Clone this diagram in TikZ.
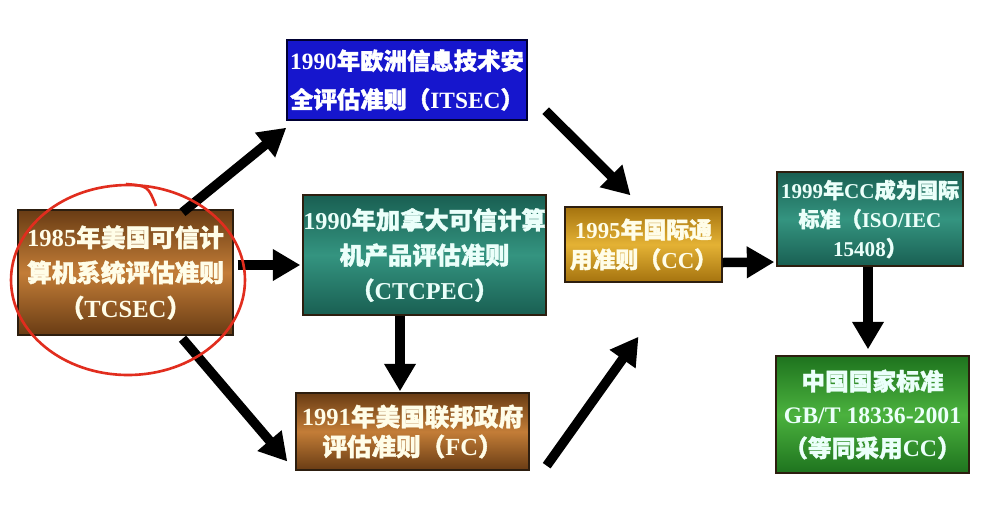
\documentclass[tikz,border=0pt]{standalone}
\usepackage{fontspec}
\setmainfont{Liberation Serif}
\newfontfamily\cjk{Noto Sans CJK SC}[FakeBold=1.5]
\usetikzlibrary{arrows.meta,calc}
\definecolor{brownedge}{RGB}{105,60,20}
\definecolor{brownmid}{RGB}{195,125,55}
\definecolor{browndraw}{RGB}{45,30,15}
\definecolor{tealedge}{RGB}{25,95,82}
\definecolor{tealmid}{RGB}{52,148,128}
\definecolor{goldedge}{RGB}{165,115,15}
\definecolor{goldmid}{RGB}{228,178,52}
\definecolor{greenedge}{RGB}{30,115,30}
\definecolor{greenmid}{RGB}{75,178,62}
\definecolor{itblue}{RGB}{22,22,205}
\definecolor{txt}{RGB}{255,253,232}
\definecolor{txtc}{RGB}{235,255,250}
\definecolor{redpen}{RGB}{225,45,30}
\begin{document}
\begin{tikzpicture}[x=0.02cm,y=-0.02cm,
  box/.style={draw=browndraw,line width=0.8pt,align=center,inner sep=0pt,font=\bfseries,text=txt},
  brownbox/.style={box,top color=brownedge,bottom color=brownedge,middle color=brownmid},
  tealbox/.style={box,top color=tealedge,bottom color=tealedge,middle color=tealmid,text=txtc},
  goldbox/.style={box,top color=goldedge,bottom color=goldedge,middle color=goldmid},
  greenbox/.style={box,top color=greenedge,bottom color=greenedge,middle color=greenmid,text=txtc},
  bluebox/.style={box,fill=itblue,draw=black!80!blue,text=white},
  arr/.style={line width=0.19cm,-{Triangle[width=0.6cm,length=0.55cm]},black},
  pen/.style={draw=redpen,line width=1.5pt}]
\useasboundingbox (0,0) rectangle (1000,515);
\fill[white] (0,0) rectangle (1000,515);

\node[brownbox,minimum width=4.3cm,minimum height=2.5cm,
  font=\fontsize{14}{20}\selectfont\bfseries] (tcsec) at (125.5,272.5)
  {1985{\cjk 年美国可信计}\\{\cjk 算机系统评估准则}\\{\cjk （}TCSEC{\cjk ）}};

\node[bluebox,minimum width=4.8cm,minimum height=1.6cm,
  font=\fontsize{13.3}{22}\selectfont\bfseries] (itsec) at (407,80)
  {1990{\cjk 年欧洲信息技术安}\\{\cjk 全评估准则（}ITSEC{\cjk ）}};

\node[tealbox,minimum width=4.86cm,minimum height=2.4cm,
  font=\fontsize{13.8}{20}\selectfont\bfseries] (ctcpec) at (424.5,255)
  {1990{\cjk 年加拿大可信计算}\\{\cjk 机产品评估准则}\\{\cjk （}CTCPEC{\cjk ）}};

\node[brownbox,minimum width=4.66cm,minimum height=1.54cm,
  font=\fontsize{14}{17}\selectfont\bfseries] (fc) at (412.5,431.5)
  {1991{\cjk 年美国联邦政府}\\{\cjk 评估准则（}FC{\cjk ）}};

\node[goldbox,minimum width=3.14cm,minimum height=1.5cm,
  font=\fontsize{13}{17}\selectfont\bfseries] (cc) at (643.5,244.5)
  {1995{\cjk 年国际通}\\{\cjk 用准则（}CC{\cjk ）}};

\node[tealbox,minimum width=3.72cm,minimum height=1.88cm,
  font=\fontsize{12}{16.5}\selectfont\bfseries] (iso) at (870,219)
  {1999{\cjk 年}CC{\cjk 成为国际}\\{\cjk 标准（}ISO/IEC\\15408{\cjk ）}};

\node[greenbox,minimum width=3.86cm,minimum height=2.34cm,
  font=\fontsize{13.5}{19}\selectfont\bfseries] (china) at (872.5,414.5)
  {{\cjk 中国国家标准}\\GB/T 18336-2001\\{\cjk （等同采用}CC{\cjk ）}};

% connectors
\draw[arr] ($(tcsec.north)+(57,3)$) -- ($(itsec.south west)+(0,7)$);
\draw[arr] ($(tcsec.east)+(4,-7.5)$) -- ($(ctcpec.west)+(-2,10)$);
\draw[arr] ($(tcsec.south)+(57,3)$) -- ($(fc.west)+(-8,30)$);
\draw[arr] ($(ctcpec.south)+(-24.5,0)$) -- ($(fc.north)+(-12.5,-1)$);
\draw[arr] ($(itsec.south east)+(18,-10)$) -- ($(cc.north)+(-13,-11)$);
\draw[arr] ($(fc.south east)+(17,-5)$) -- ($(cc.south)+(-5,54)$);
\draw[arr] ($(cc.east)+(0,18)$) -- ($(iso.west)+(-2,43)$);
\draw[arr] ($(iso.south)+(-2,0)$) -- ($(china.north)+(-4.5,-6)$);

% red hand-drawn circle
\draw[pen] (128,280) ellipse [x radius=2.34cm, y radius=1.9cm];
\draw[pen] (126,184) .. controls (148,186) .. (156,206);
\end{tikzpicture}
\end{document}
